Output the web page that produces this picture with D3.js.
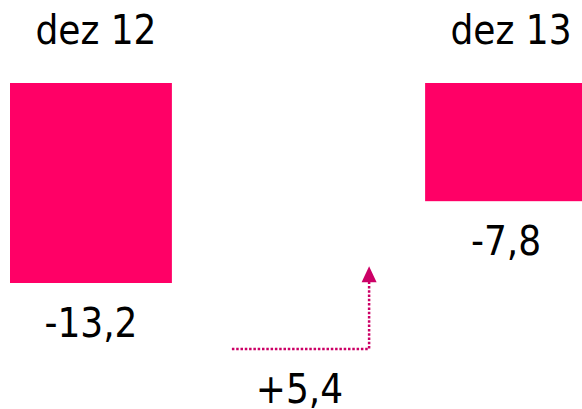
<!DOCTYPE html>
<html>
<head>
<meta charset="utf-8">
<script src="https://cdn.jsdelivr.net/npm/d3@7"></script>
<style>
  html, body { margin: 0; padding: 0; background: #fff; overflow: hidden; }
  svg { display: block; }
  text { font-family: "DejaVu Sans Condensed", "DejaVu Sans", sans-serif; fill: #000; }
</style>
</head>
<body>
<svg id="chart" width="582" height="409"></svg>
<script>
const categories = ["dez 12", "dez 13"];
const values = [-13.2, -7.8];
const deltaLabels = ["+5,4"];

const W = 582, H = 409;
const barColor = "#FF0066";
const arrowColor = "#CC0066";
const fmt = v => d3.format(".1f")(v).replace(".", ",").replace("−", "-");

const svg = d3.select("#chart");

const x = d3.scaleBand()
  .domain(categories)
  .range([10, 587])
  .paddingInner(0.61)
  .paddingOuter(0);

const y = d3.scaleLinear()
  .domain([0, -13.2])
  .range([83, 283]);

const data = categories.map((c, i) => ({ c, v: values[i] }));

// bars
svg.selectAll("rect.bar")
  .data(data)
  .join("rect")
  .attr("class", "bar")
  .attr("x", d => x(d.c))
  .attr("y", y(0))
  .attr("width", x.bandwidth())
  .attr("height", d => y(d.v) - y(0))
  .attr("fill", barColor);

// category labels
svg.selectAll("text.cat")
  .data(data)
  .join("text")
  .attr("class", "cat")
  .attr("x", d => x(d.c) + x.bandwidth() / 2 + 5)
  .attr("y", 44)
  .attr("text-anchor", "middle")
  .attr("font-size", 40)
  .text(d => d.c);

// value labels
svg.selectAll("text.val")
  .data(data)
  .join("text")
  .attr("class", "val")
  .attr("x", d => x(d.c) + x.bandwidth() / 2)
  .attr("y", d => y(d.v) + 54)
  .attr("text-anchor", "middle")
  .attr("font-size", 40)
  .text(d => fmt(d.v));

// change arrow
const x0 = x(categories[0]) + x.bandwidth() + 60;
const x1 = x(categories[1]) - 56;
const yStart = y(values[0]) + 66;
const yEnd = y(values[1]) + 65;

svg.append("path")
  .attr("d", d3.line()([[x0, yStart], [x1, yStart], [x1, yEnd + 14]]))
  .attr("fill", "none")
  .attr("stroke", arrowColor)
  .attr("stroke-width", 2.5)
  .attr("stroke-dasharray", "2.5,1.8");

svg.append("path")
  .attr("d", d3.line()([[x1 - 7.5, yEnd + 16], [x1 + 7.5, yEnd + 16], [x1, yEnd]]) + "Z")
  .attr("fill", arrowColor);

svg.append("text")
  .attr("x", (x0 + x1) / 2 - 1)
  .attr("y", yStart + 54)
  .attr("text-anchor", "middle")
  .attr("font-size", 40)
  .text(deltaLabels[0]);
</script>
</body>
</html>
